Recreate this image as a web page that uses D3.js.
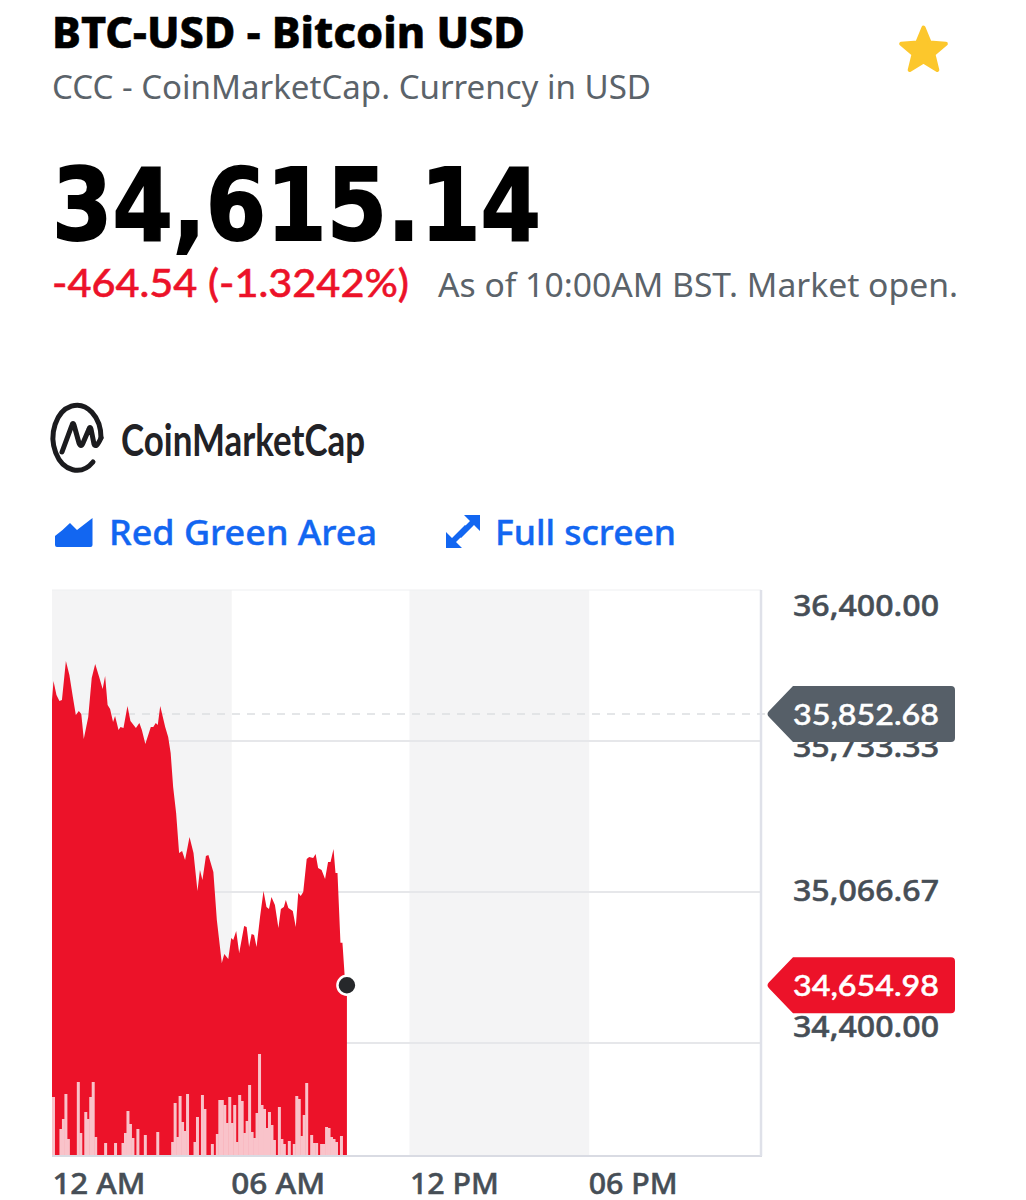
<!DOCTYPE html>
<html><head><meta charset="utf-8">
<script src="https://cdn.jsdelivr.net/npm/d3@7/dist/d3.min.js"></script>
<style>html,body{margin:0;padding:0;background:#fff}svg{display:block}text{font-family:"Noto Sans",sans-serif}</style>
</head><body><div id="c"></div>
<script>
// minutes after midnight / price in USD
const priceMinutes=[0,3,9,15,20,28,35,42,48,54,59,64,73,80,87,95,102,107,112,117,123,127,134,138,144,152,158,169,176,181,188,199,204,209,213,218,228,234,239,244,250,256,262,268,277,285,293,298,303,310,315,325,332,342,347,355,361,365,371,377,387,392,397,402,407,412,419,426,432,437,442,449,456,461,467,471,476,485,491,496,501,506,513,518,526,531,536,543,550,556,561,567,571,575,581,585,590,594];
const prices=[35914,35998,35936,35910,35914,36087,36025,35928,35848,35866,35853,35742,35839,36011,36073,36016,35963,36020,35892,35875,35817,35844,35782,35795,35791,35888,35822,35791,35813,35782,35720,35795,35795,35813,35804,35888,35795,35751,35680,35530,35415,35239,35248,35208,35309,35239,35071,35164,35120,35226,35230,35155,34943,34753,34793,34771,34864,34855,34894,34797,34917,34912,34824,34881,34877,34824,34956,35071,35000,34992,35045,35009,34908,34992,35000,35031,34996,34983,34912,35062,35049,35067,35212,35221,35217,35234,35173,35164,35124,35199,35199,35257,35151,35151,34842,34842,34678,34655];
// volume per 5-minute interval (relative units)
const volumes=[59,0,0,27,37,62,17,0,0,0,74,23,0,44,37,59,74,19,0,0,0,13,0,0,0,13,0,0,13,23,45,32,18,0,27,0,0,21,0,0,0,0,24,0,0,0,0,0,14,53,19,60,34,25,62,0,0,14,39,0,61,47,0,0,12,0,22,56,56,51,33,59,33,51,14,61,55,23,35,71,24,18,43,102,51,47,28,44,31,16,0,49,17,12,0,15,0,12,60,57,20,41,73,0,21,13,13,0,12,12,29,28,19,17,14,0,20,0];
const priceTicks=[36400,35733.33,35066.67,34400];
const timeTicks=[0,360,720,1080];
const timeLabels=["12 AM","06 AM","12 PM","06 PM"];
const shadedBands=[[0,360],[720,1080]];
const prevClose=35852.68, lastPrice=34654.98;
const volumeMax=566;

const RED="#ec1229", GREY="#565f68", BLUE="#1266f1", INK="#464e56";
const svg=d3.select("#c").append("svg").attr("width",1026).attr("height",1200);
const L=52,R=761,T=590,B=1156;
const x=d3.scaleLinear().domain([0,1428]).range([L,R]);
const y=d3.scaleLinear().domain([33901,36400]).range([B,T]);
const yV=d3.scaleLinear().domain([0,volumeMax]).range([B,T]);

function t(s,px,py,size,weight,fill,len,family){
  const e=svg.append("text").attr("x",px).attr("y",py).attr("font-size",size).attr("font-weight",weight).attr("fill",fill).text(s);
  if(len) e.attr("textLength",len).attr("lengthAdjust","spacingAndGlyphs");
  if(family) e.style("font-family",family);
  return e;
}
// header
t("BTC-USD - Bitcoin USD",52,48,42,800,"#000",473).attr("stroke","#000").attr("stroke-width",0.5);
t("CCC - CoinMarketCap. Currency in USD",52,99,32,400,"#5b636a",599);
t("34,615.14",52,240,99,700,"#000",489,'"DejaVu Sans"').attr("stroke","#000").attr("stroke-width",1.8);
t("-464.54 (-1.3242%)",52,297,39,500,RED,357,"Lato").attr("stroke",RED).attr("stroke-width",0.5);
t("As of 10:00AM BST. Market open.",438,297,32,400,"#5b636a",520);

// star
const star=d3.range(10).map(i=>{const r=i%2?10.5:23.5,a=-Math.PI/2+i*Math.PI/5;return [923.5+r*Math.cos(a),51+r*Math.sin(a)];});
svg.append("path").attr("d",d3.line()(star)+"Z").attr("fill","#fcc72c").attr("stroke","#fcc72c").attr("stroke-width",4).attr("stroke-linejoin","round");

// logo
const logo=svg.append("g").attr("fill","none").attr("stroke","#1b1b1e").attr("stroke-width",5).attr("stroke-linecap","round").attr("stroke-linejoin","round");
logo.append("path").attr("d","M93,462 A24,32.5 0 1 1 101,438");
logo.append("path").attr("d","M62,452 L72,425 Q73,422 74,425 L79,443 Q81,448 83,443 L89,429 Q90,426 91,429 L94,444 Q96,449 101,438");
t("CoinMarketCap",121,456,44,700,"#222226",244,"Lato");

// toolbar
svg.append("path").attr("d","M55,536 Q62,531 70,523 L77,530 L92.5,518 L92.5,545 Q92.5,547 90.5,547 L57,547 Q55,547 55,545 Z").attr("fill",BLUE);
t("Red Green Area",109,545,33.5,500,BLUE,268).attr("stroke",BLUE).attr("stroke-width",0.4);
const ex=svg.append("g");
ex.append("path").attr("d","M464,515 L480,515 L480,531 L474,525 L461,538 L457,534 L470,521 Z").attr("fill",BLUE);
ex.append("path").attr("d","M446,532 L446,548 L462,548 L456,542 L469,529 L465,525 L452,538 Z").attr("fill",BLUE);
t("Full screen",495,545,33.5,500,BLUE,181).attr("stroke",BLUE).attr("stroke-width",0.4);

// bands and frame
svg.selectAll(".band").data(shadedBands).join("rect").attr("x",d=>x(d[0])).attr("width",d=>x(d[1])-x(d[0])+1).attr("y",T).attr("height",B-T).attr("fill","#f4f4f5");
svg.append("line").attr("x1",L).attr("x2",R).attr("y1",T).attr("y2",T).attr("stroke","#eeeff1").attr("stroke-width",1);
svg.selectAll(".grid").data(priceTicks.slice(1)).join("line").attr("x1",L).attr("x2",R).attr("y1",d=>y(d)).attr("y2",d=>y(d)).attr("stroke","#e6e7ea").attr("stroke-width",2);
svg.append("line").attr("x1",L).attr("x2",766).attr("y1",y(prevClose)).attr("y2",y(prevClose)).attr("stroke","#dcdee1").attr("stroke-width",1.5).attr("stroke-dasharray","8 7");

// area
const area=d3.area().x((d,i)=>x(priceMinutes[i])).y0(B).y1(d=>y(d));
svg.append("path").attr("d",area(prices)).attr("fill",RED);

// volume
svg.selectAll(".vol").data(volumes).join("rect").attr("x",(d,i)=>x(i*5)).attr("width",x(5)-x(0)+0.5).attr("y",d=>yV(d)).attr("height",d=>B-yV(d)).attr("fill","#f9c3ca");

// axes
const axR=d3.axisRight(y).tickValues(priceTicks).tickSize(0).tickPadding(0).tickFormat(d3.format(",.2f"));
const labelShift={36400:25,35733.33:16,35066.67:9,34400:-6};
const gR=svg.append("g").attr("transform",`translate(793,0)`).call(axR);
gR.select(".domain").remove();
gR.selectAll("text").attr("x",0).attr("dy",0).attr("y",d=>labelShift[d]).attr("font-size",29).attr("font-weight",500).attr("fill",INK).attr("stroke",INK).attr("stroke-width",0.5).attr("font-family","Lato").attr("text-anchor","start").attr("textLength",146).attr("lengthAdjust","spacingAndGlyphs");
const labelWidths=[93,94,89,89];
const axB=d3.axisBottom(x).tickValues(timeTicks).tickSize(0).tickPadding(0).tickFormat((d,i)=>timeLabels[i]);
const gB=svg.append("g").attr("transform",`translate(0,${B})`).call(axB);
gB.select(".domain").remove();
gB.selectAll("text").attr("y",38).attr("dy",0).attr("font-size",29).attr("font-weight",500).attr("fill",INK).attr("stroke",INK).attr("stroke-width",0.5).attr("font-family","Lato").attr("text-anchor","start").attr("textLength",(d,i)=>labelWidths[i]).attr("lengthAdjust","spacingAndGlyphs");
svg.append("line").attr("x1",L).attr("x2",R+1).attr("y1",B).attr("y2",B).attr("stroke","#d9dbe3").attr("stroke-width",2);
svg.append("line").attr("x1",R).attr("x2",R).attr("y1",T).attr("y2",B).attr("stroke","#dfe1e9").attr("stroke-width",2.5);

// tags
function tag(v,color){
  const c=y(v);
  svg.append("path").attr("d",`M769,${c-3} L793,${c-28} L951,${c-28} Q955,${c-28} 955,${c-24} L955,${c+24} Q955,${c+28} 951,${c+28} L793,${c+28} L769,${c+3} Q766,${c} 769,${c-3} Z`).attr("fill",color);
  t(d3.format(",.2f")(v),793,c+11,29,500,"#fff",146,"Lato").attr("stroke","#fff").attr("stroke-width",0.5);
}
tag(prevClose,GREY);
tag(lastPrice,RED);

// last point
svg.append("circle").attr("cx",x(priceMinutes[priceMinutes.length-1])).attr("cy",y(lastPrice)).attr("r",9.5).attr("fill","#26282b").attr("stroke","#fff").attr("stroke-width",2.5);
</script></body></html>
